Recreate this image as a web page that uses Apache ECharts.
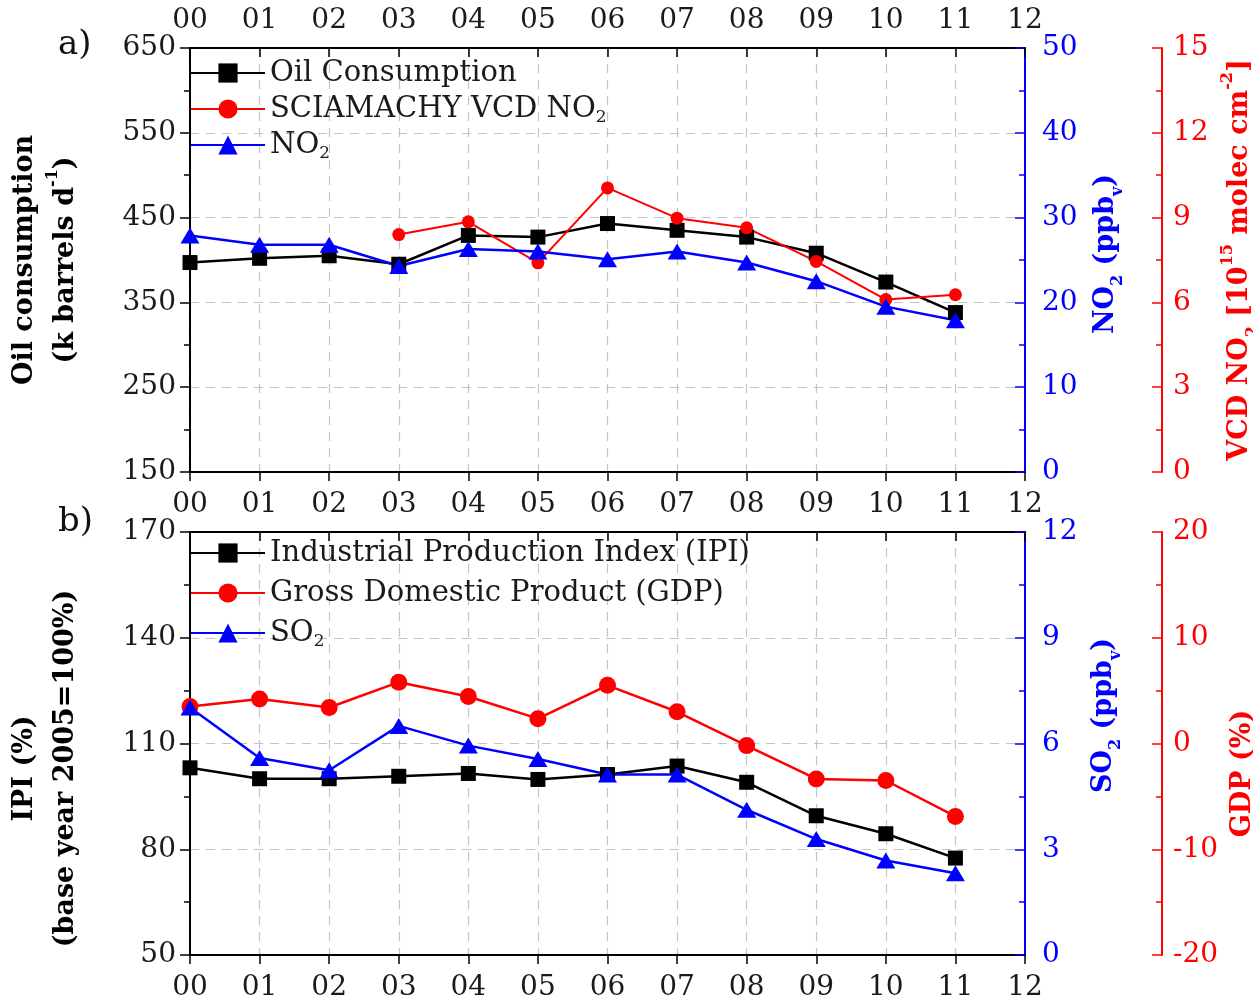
<!DOCTYPE html>
<html><head><meta charset="utf-8">
<script src="https://cdn.jsdelivr.net/npm/echarts@6/dist/echarts.min.js"></script>
<style>html,body{margin:0;padding:0;background:#fff}#c{width:1253px;height:1004px}</style>
</head><body><div id="c"></div>
<script>
// ---- data ----
const years = ['00','01','02','03','04','05','06','07','08','09','10','11'];
const xTickLabels = ['00','01','02','03','04','05','06','07','08','09','10','11','12'];
const oilConsumption = [397, 402, 405, 395, 429, 427, 443, 435, 427, 408, 374, 338];
const sciamachyVcdNO2 = [null, null, null, 8.4, 8.85, 7.4, 10.05, 8.98, 8.64, 7.45, 6.1, 6.27];
const no2 = [27.9, 26.8, 26.8, 24.3, 26.3, 26.0, 25.1, 26.0, 24.7, 22.5, 19.5, 17.9];
const ipi = [103.1, 100.0, 100.0, 100.7, 101.5, 99.8, 101.2, 103.6, 99.0, 89.5, 84.4, 77.5];
const gdp = [3.5, 4.2, 3.4, 5.8, 4.45, 2.35, 5.5, 3.0, -0.2, -3.35, -3.5, -6.9];
const so2 = [7.02, 5.59, 5.24, 6.5, 5.94, 5.56, 5.12, 5.12, 4.12, 3.29, 2.68, 2.32];

// ---- chart ----
const F = 'DejaVu Serif';
const BLUE = '#0000ff', RED = '#ff0000', BLK = '#000000';
const TICK_FS = 28;
const pair = arr => arr.map((v, i) => [i, v]);

const chart = echarts.init(document.getElementById('c'), null, {renderer: 'canvas'});

function xAx(grid, pos, showLabel, inside, margin) {
  return {
    type: 'value', gridIndex: grid, position: pos, min: 0, max: 12, interval: 1,
    axisLine: {show: true, onZero: false, lineStyle: {color: BLK, width: 2}},
    axisTick: {show: true, inside: inside, length: 9, lineStyle: {color: BLK, width: 1.5}},
    axisLabel: {show: showLabel, margin: margin, formatter: v => xTickLabels[v], color: '#1a1a1a', fontFamily: F, fontSize: TICK_FS},
    splitLine: {show: pos === 'bottom', lineStyle: {type: [9, 7], color: '#c4c4c4', width: 1.2}}
  };
}

function titleRich(color) {
  return {
    b: {fontFamily: F, fontWeight: 'bold', fontSize: 27, lineHeight: 41, color: color},
    sup: {fontFamily: F, fontWeight: 'bold', fontSize: 16, lineHeight: 26, verticalAlign: 'top', color: color},
    sub: {fontFamily: F, fontWeight: 'bold', fontSize: 16, lineHeight: 25, verticalAlign: 'bottom', color: color}
  };
}

function yAx(grid, pos, offset, min, max, interval, color, inside, margin, name, nameGap, padding, split, tickLen) {
  return {
    type: 'value', gridIndex: grid, position: pos, offset: offset, min: min, max: max, interval: interval,
    axisLine: {show: true, onZero: false, lineStyle: {color: color, width: 2}},
    axisTick: {show: true, inside: inside, length: tickLen, lineStyle: {color: color, width: 1.5}},
    minorTick: {show: true, splitNumber: 2, length: 6, lineStyle: {color: color, width: 1.5}},
    axisLabel: {margin: margin, color: color === BLK ? '#1a1a1a' : color, fontFamily: F, fontSize: TICK_FS},
    splitLine: {show: split, lineStyle: {type: [9, 7], color: '#c4c4c4', width: 1.2}},
    name: name, nameLocation: 'middle', nameRotate: 90, nameGap: nameGap,
    nameTextStyle: {rich: titleRich(color === BLK ? '#000' : color), padding: padding, align: 'center'}
  };
}

const legendRich = {
  s: {fontFamily: F, fontSize: 17, lineHeight: 22, verticalAlign: 'bottom', color: '#1a1a1a'}
};
const legendFmt = name => {
  if (name === 'SCIAMACHY VCD NO2') return 'SCIAMACHY VCD NO{s|2}';
  if (name === 'NO2') return 'NO{s|2}';
  if (name === 'SO2') return 'SO{s|2}';
  return name;
};

const option = {
  animation: false,
  backgroundColor: '#fff',
  grid: [
    {left: 190, top: 48, width: 835, height: 424, containLabel: false, outerBoundsMode: 'none'},
    {left: 190, top: 532, width: 835, height: 423, containLabel: false, outerBoundsMode: 'none'}
  ],
  xAxis: [
    xAx(0, 'bottom', true, false, 19),
    xAx(0, 'top', true, true, 13),
    xAx(1, 'bottom', true, false, 19),
    xAx(1, 'top', false, true, 13)
  ],
  yAxis: [
    yAx(0, 'left', 0, 150, 650, 100, BLK, false, 14,
      '{b|Oil consumption}\n{b|(k barrels d}{sup|-1}{b|)}', 104, [0, 0, 0, 0], true, 10),
    yAx(0, 'right', 0, 0, 50, 10, BLUE, true, 17,
      '{b|NO}{sub|2}{b| (ppb}{sub|v}{b|)}', 60, [0, 0, 0, 12], false, 10),
    yAx(0, 'right', 137, 0, 15, 3, RED, true, 11,
      '{b|VCD NO}{sub|2}{b| [10}{sup|15}{b| molec cm}{sup|-2}{b|]}', 47, [0, 0, 0, 0], false, 10),
    yAx(1, 'left', 0, 50, 170, 30, BLK, false, 14,
      '{b|IPI (%)}\n{b|(base year 2005=100%)}', 104, [0, 50, 0, 0], true, 10),
    yAx(1, 'right', 0, 0, 12, 3, BLUE, true, 17,
      '{b|SO}{sub|2}{b| (ppb}{sub|v}{b|)}', 58, [0, 0, 0, 56], false, 10),
    yAx(1, 'right', 137, -20, 20, 10, RED, true, 11,
      '{b|GDP (%)}', 52, [0, 60, 0, 0], false, 10)
  ],
  legend: [
    {
      data: ['Oil Consumption', 'SCIAMACHY VCD NO2', 'NO2'],
      orient: 'vertical', left: 190, top: 56, itemWidth: 74, itemHeight: 24, itemGap: 2,
      formatter: legendFmt, padding: 0,
      textStyle: {fontFamily: F, fontSize: 29, lineHeight: 34, color: '#1a1a1a', rich: legendRich}
    },
    {
      data: ['Industrial Production Index (IPI)', 'Gross Domestic Product (GDP)', 'SO2'],
      orient: 'vertical', left: 190, top: 536, itemWidth: 74, itemHeight: 24, itemGap: 6,
      formatter: legendFmt, padding: 0,
      textStyle: {fontFamily: F, fontSize: 29, lineHeight: 34, color: '#1a1a1a', rich: legendRich}
    }
  ],
  graphic: [
    {type: 'text', left: 58, top: 28, style: {text: 'a)', fontFamily: F, fontSize: 34, fill: '#111'}},
    {type: 'text', left: 58, top: 505, style: {text: 'b)', fontFamily: F, fontSize: 34, fill: '#111'}}
  ],
  series: [
    {name: 'Oil Consumption', type: 'line', xAxisIndex: 0, yAxisIndex: 0, data: pair(oilConsumption),
      symbol: 'rect', symbolSize: 15, itemStyle: {color: BLK}, lineStyle: {color: BLK, width: 2.5}},
    {name: 'SCIAMACHY VCD NO2', type: 'line', xAxisIndex: 0, yAxisIndex: 2, data: pair(sciamachyVcdNO2),
      symbol: 'circle', symbolSize: 13, itemStyle: {color: RED}, lineStyle: {color: RED, width: 2}},
    {name: 'NO2', type: 'line', xAxisIndex: 0, yAxisIndex: 1, data: pair(no2),
      symbol: 'triangle', symbolSize: [19, 16], itemStyle: {color: BLUE}, lineStyle: {color: BLUE, width: 2.5}},
    {name: 'Industrial Production Index (IPI)', type: 'line', xAxisIndex: 2, yAxisIndex: 3, data: pair(ipi),
      symbol: 'rect', symbolSize: 15, itemStyle: {color: BLK}, lineStyle: {color: BLK, width: 2.5}},
    {name: 'Gross Domestic Product (GDP)', type: 'line', xAxisIndex: 2, yAxisIndex: 5, data: pair(gdp),
      symbol: 'circle', symbolSize: 17, itemStyle: {color: RED}, lineStyle: {color: RED, width: 2.5}},
    {name: 'SO2', type: 'line', xAxisIndex: 2, yAxisIndex: 4, data: pair(so2),
      symbol: 'triangle', symbolSize: [19, 16], itemStyle: {color: BLUE}, lineStyle: {color: BLUE, width: 2.5}}
  ]
};
chart.setOption(option);
</script>
</body></html>
